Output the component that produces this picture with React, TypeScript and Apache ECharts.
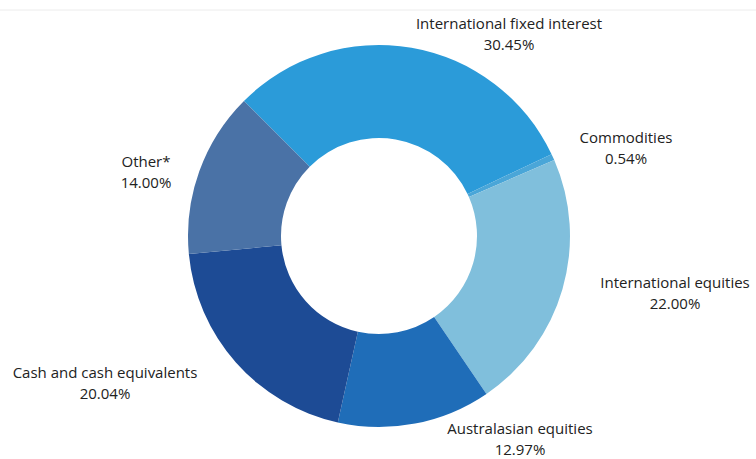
import React, { useEffect, useRef } from "react";
import * as echarts from "echarts";

const categories = [
  "International fixed interest",
  "Commodities",
  "International equities",
  "Australasian equities",
  "Cash and cash equivalents",
  "Other*",
];
const values = [30.45, 0.54, 22.0, 12.97, 20.04, 14.0];
const colors = ["#2b9bd9", "#4aa6d8", "#80bfdc", "#1f6db8", "#1d4b95", "#4a72a6"];
// label centre positions (px) for each slice, in the same order
const labelX = [509, 626, 675, 520, 105, 146];
const labelY = [33, 147, 292, 438, 382, 171];

export default function App() {
  const ref = useRef<HTMLDivElement>(null);
  useEffect(() => {
    document.body.style.margin = "0";
    const chart = echarts.init(ref.current!, null, { renderer: "svg" });
    chart.setOption({
      animation: false,
      backgroundColor: "#ffffff",
      graphic: [
        {
          type: "line",
          shape: { x1: 0, y1: 10, x2: 756, y2: 10 },
          style: { stroke: "#ececec", lineWidth: 1 },
          silent: true,
        },
      ],
      series: [
        {
          type: "pie",
          center: [379, 236],
          radius: [98, 191],
          startAngle: 135,
          clockwise: true,
          avoidLabelOverlap: false,
          itemStyle: { borderWidth: 0 },
          label: {
            show: true,
            position: "outside",
            formatter: (p: any) => `${p.name}\n${values[p.dataIndex].toFixed(2)}%`,
            fontFamily: "Open Sans",
            fontSize: 15,
            color: "#222222",
            lineHeight: 21,
            align: "center",
          },
          labelLine: { show: false },
          labelLayout: (params: any) => ({
            x: labelX[params.dataIndex],
            y: labelY[params.dataIndex],
            align: "center",
            verticalAlign: "middle",
          }),
          data: categories.map((name, i) => ({
            name,
            value: values[i],
            itemStyle: { color: colors[i] },
          })),
        },
      ],
    });
    return () => chart.dispose();
  }, []);
  return <div ref={ref} style={{ width: 756, height: 459 }} />;
}
